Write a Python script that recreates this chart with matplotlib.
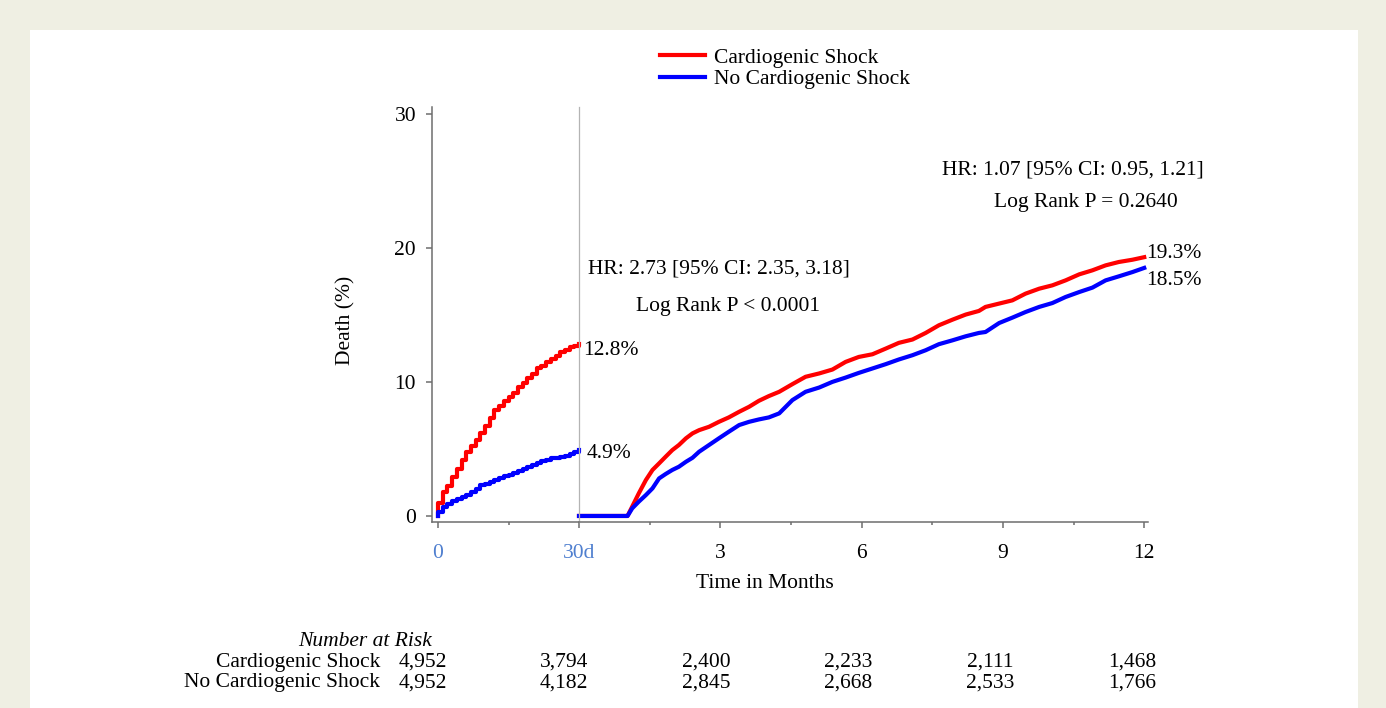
import matplotlib.pyplot as plt
from matplotlib.patches import Rectangle

plt.rcParams['font.family'] = ['Liberation Serif', 'DejaVu Serif']
plt.rcParams['font.size'] = 15.5

W, H = 1386, 708


def fx(px):
    return px / W


def fy(py):
    return 1 - py / H


# first 30 days: cumulative death (%) per day
days = [0] + list(range(31))
cs_early = [0.0, 1.0, 1.8, 2.2, 2.9, 3.5, 4.2, 4.8, 5.2, 5.7, 6.2, 6.7, 7.3, 7.9,
            8.2, 8.55, 8.9, 9.2, 9.6, 9.9, 10.3, 10.6, 11.0, 11.2, 11.5, 11.7,
            11.9, 12.2, 12.4, 12.6, 12.7, 12.8]
nocs_early = [0.0, 0.3, 0.7, 0.9, 1.1, 1.3, 1.45, 1.6, 1.8, 2.0, 2.3, 2.4, 2.55,
              2.7, 2.8, 2.95, 3.05, 3.2, 3.35, 3.5, 3.65, 3.8, 3.95, 4.1, 4.2,
              4.3, 4.35, 4.4, 4.5, 4.65, 4.75, 4.9]

# landmark from 30 days to 12 months
months = [0, 1.03, 1.13, 1.27, 1.42, 1.56, 1.70, 1.84, 1.98, 2.12, 2.27, 2.41,
          2.55, 2.76, 2.97, 3.18, 3.40, 3.61, 3.82, 4.03, 4.25, 4.53, 4.81,
          5.10, 5.38, 5.66, 5.94, 6.23, 6.51, 6.79, 7.08, 7.36, 7.64, 7.93,
          8.21, 8.49, 8.63, 8.92, 9.20, 9.48, 9.77, 10.05, 10.33, 10.62, 10.90,
          11.18, 11.46, 11.75, 12.0]
cs_late = [0, 0, 0.7, 1.69, 2.68, 3.43, 3.92, 4.42, 4.91, 5.29, 5.79, 6.16,
           6.40, 6.65, 7.02, 7.35, 7.77, 8.14, 8.59, 8.94, 9.26, 9.83, 10.38,
           10.63, 10.92, 11.49, 11.86, 12.06, 12.48, 12.91, 13.16, 13.65, 14.22,
           14.64, 15.02, 15.29, 15.59, 15.84, 16.08, 16.58, 16.95, 17.2, 17.57,
           18.02, 18.32, 18.69, 18.94, 19.11, 19.3]
nocs_late = [0, 0, 0.57, 1.07, 1.56, 2.06, 2.80, 3.13, 3.43, 3.67, 4.04, 4.34,
             4.79, 5.29, 5.79, 6.28, 6.78, 7.02, 7.20, 7.35, 7.65, 8.64, 9.26,
             9.58, 10.0, 10.32, 10.67, 11.0, 11.32, 11.67, 11.99, 12.36, 12.81,
             13.1, 13.4, 13.65, 13.72, 14.39, 14.79, 15.21, 15.59, 15.88, 16.33,
             16.7, 17.03, 17.57, 17.87, 18.19, 18.5]

groups = ["Cardiogenic Shock", "No Cardiogenic Shock"]
risk_cs = ["4,952", "3,794", "2,400", "2,233", "2,111", "1,468"]
risk_nocs = ["4,952", "4,182", "2,845", "2,668", "2,533", "1,766"]

hr_early = ["HR: 2.73 [95% CI: 2.35, 3.18]", "Log Rank P < 0.0001"]
hr_late = ["HR: 1.07 [95% CI: 0.95, 1.21]", "Log Rank P = 0.2640"]

RED = "#ff0000"
BLUE = "#0000ff"
GRAY = "#6e6e6e"
TICKBLUE = "#4f7fcf"
BG = "#efefe3"

fig = plt.figure(figsize=(W / 100, H / 100), dpi=100, facecolor=BG)
fig.add_artist(Rectangle((fx(30), 0), fx(1358) - fx(30), fy(30),
                         transform=fig.transFigure, facecolor="white",
                         edgecolor="none", zorder=-5))

ax1 = fig.add_axes([fx(432), fy(522), fx(579) - fx(432), (522 - 107) / H])
ax2 = fig.add_axes([fx(579), fy(522), fx(1148) - fx(579), (522 - 107) / H],
                   sharey=ax1)

lw = 3
l1, = ax1.step(days, cs_early, where="post", color=RED, lw=lw, clip_on=False)
l2, = ax1.step(days, nocs_early, where="post", color=BLUE, lw=lw, clip_on=False)
ax2.plot(months, cs_late, color=RED, lw=lw, clip_on=False)
ax2.plot(months, nocs_late, color=BLUE, lw=lw, clip_on=False)

ax1.set_xlim(-1.28, 30)
ax1.set_ylim(-0.45, 30.5)
ax2.set_xlim(0, 12.08)

for ax in (ax1, ax2):
    ax.set_facecolor("none")
    ax.spines["top"].set_visible(False)
    ax.spines["right"].set_visible(False)
    ax.spines["bottom"].set_color(GRAY)
    ax.spines["bottom"].set_linewidth(1.1)
ax1.spines["left"].set_color(GRAY)
ax1.spines["left"].set_linewidth(1.1)
ax2.spines["left"].set_color("#b4b4b4")
ax2.spines["left"].set_linewidth(0.9)

ax1.set_yticks([0, 10, 20, 30])
ax1.set_xticks([0, 30], ["0", "30d"])
ax1.set_xticks([15], minor=True)
ax2.set_xticks([3, 6, 9, 12], ["3", "6", "9", "12"])
ax2.set_xticks([1.5, 4.5, 7.5, 10.5], minor=True)

ax1.tick_params(axis="x", which="both", color=GRAY, labelcolor=TICKBLUE)
ax1.tick_params(axis="y", color=GRAY, length=4.5, width=1.1, pad=7)
for ax in (ax1, ax2):
    ax.tick_params(axis="x", which="major", length=4.5, width=1.1, pad=11,
                   color=GRAY)
    ax.tick_params(axis="x", which="minor", length=2.5, width=1.1, color=GRAY)
ax2.tick_params(axis="y", left=False, labelleft=False)

# end-of-period labels
ax1.annotate(f"{cs_early[-1]:.1f}%", (days[-1], cs_early[-1]), xytext=(4, -6),
             textcoords="offset pixels", va="center", ha="left")
ax1.annotate(f"{nocs_early[-1]:.1f}%", (days[-1], nocs_early[-1]),
             xytext=(8, -3), textcoords="offset pixels", va="center", ha="left")
ax2.annotate(f"{cs_late[-1]:.1f}%", (months[-1], cs_late[-1]), xytext=(2, 4),
             textcoords="offset pixels", va="center", ha="left")
ax2.annotate(f"{nocs_late[-1]:.1f}%", (months[-1], nocs_late[-1]),
             xytext=(2, -13), textcoords="offset pixels", va="center", ha="left")

fig.text(fx(719), fy(269), hr_early[0], ha="center", va="center")
fig.text(fx(728), fy(307), hr_early[1], ha="center", va="center")
fig.text(fx(1073), fy(170), hr_late[0], ha="center", va="center")
fig.text(fx(1086), fy(202), hr_late[1], ha="center", va="center")

fig.text(fx(346), fy(320), "Death (%)", rotation=90, ha="center", va="center")
fig.text(fx(765), fy(583), "Time in Months", ha="center", va="center")

fig.legend([l1, l2], groups, loc="center", bbox_to_anchor=(fx(785), fy(68.5)),
           frameon=False, handlelength=2.1, handletextpad=0.45,
           labelspacing=0.08, borderpad=0)

# number at risk table
risk_x = [423, 564, 706, 848, 990, 1132]
fig.text(fx(432), fy(642), "Number at Risk", style="italic", ha="right",
         va="center")
for row_y, name, vals in zip([662, 683], groups, [risk_cs, risk_nocs]):
    fig.text(fx(380), fy(row_y), name, ha="right", va="center")
    for x, v in zip(risk_x, vals):
        fig.text(fx(x), fy(row_y), v, ha="center", va="center")

fig.savefig("out.png", dpi=100, facecolor=BG)
